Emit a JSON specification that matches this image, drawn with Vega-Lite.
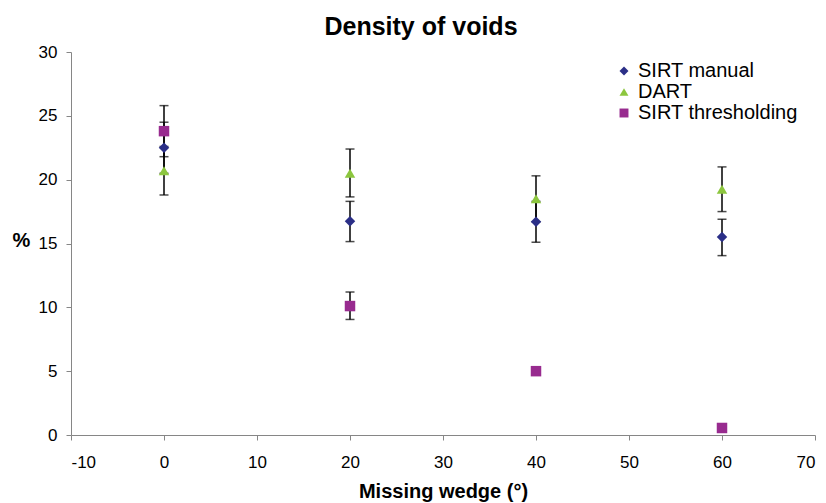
{
  "$schema": "https://vega.github.io/schema/vega-lite/v6.json",
  "width": 744,
  "height": 383,
  "autosize": "none",
  "padding": {"left": 71, "top": 52, "right": 11, "bottom": 68},
  "background": "white",
  "config": {
    "font": "Liberation Sans",
    "view": {"stroke": null},
    "axis": {"grid": false, "domainColor": "#868686", "tickColor": "#868686", "labelColor": "black", "labelFontSize": 17, "titleFontSize": 20, "titleFontWeight": "bold", "titleColor": "black", "tickSize": 5, "labelFont": "Liberation Sans", "titleFont": "Liberation Sans"}
  },
  "title": {"text": "Density of voids", "fontSize": 25, "fontWeight": "bold", "font": "Liberation Sans", "color": "black", "anchor": "middle", "dx": -22, "offset": 3},
  "data": {"values": [
    {"wedge": 0, "series": "SIRT manual", "value": 22.5, "lo": 20.5, "hi": 24.5},
    {"wedge": 20, "series": "SIRT manual", "value": 16.75, "lo": 15.15, "hi": 18.3},
    {"wedge": 40, "series": "SIRT manual", "value": 16.7, "lo": 15.1, "hi": 18.3},
    {"wedge": 60, "series": "SIRT manual", "value": 15.5, "lo": 14.05, "hi": 16.9},
    {"wedge": 0, "series": "DART", "value": 20.7, "lo": 18.8, "hi": 22.6},
    {"wedge": 20, "series": "DART", "value": 20.5, "lo": 18.65, "hi": 22.4},
    {"wedge": 40, "series": "DART", "value": 18.5, "lo": 16.7, "hi": 20.3},
    {"wedge": 60, "series": "DART", "value": 19.25, "lo": 17.5, "hi": 21.0},
    {"wedge": 0, "series": "SIRT thresholding", "value": 23.8, "lo": 21.8, "hi": 25.8},
    {"wedge": 20, "series": "SIRT thresholding", "value": 10.1, "lo": 9.05, "hi": 11.2},
    {"wedge": 40, "series": "SIRT thresholding", "value": 5.0, "lo": 4.75, "hi": 5.25},
    {"wedge": 60, "series": "SIRT thresholding", "value": 0.55, "lo": 0.55, "hi": 0.55}
  ]},
  "encoding": {
    "x": {"field": "wedge", "type": "quantitative", "scale": {"domain": [-10, 70], "nice": false, "zero": false}, "axis": {"values": [-10, 0, 10, 20, 30, 40, 50, 60, 70], "labelExpr": "'' + datum.value", "title": "Missing wedge (°)", "labelPadding": 14, "titlePadding": 11}}
  },
  "layer": [
    {
      "mark": {"type": "rule", "color": "black", "strokeWidth": 1.5},
      "encoding": {
        "y": {"field": "lo", "type": "quantitative", "scale": {"domain": [0, 30], "nice": false}, "axis": {"values": [0, 5, 10, 15, 20, 25, 30], "title": "%", "titleAngle": 0, "titleX": -50, "titleY": 198, "labelPadding": 9}},
        "y2": {"field": "hi"}
      }
    },
    {
      "mark": {"type": "tick", "color": "black", "size": 9, "thickness": 1.5, "orient": "horizontal"},
      "encoding": {"y": {"field": "lo", "type": "quantitative"}}
    },
    {
      "mark": {"type": "tick", "color": "black", "size": 9, "thickness": 1.5, "orient": "horizontal"},
      "encoding": {"y": {"field": "hi", "type": "quantitative"}}
    },
    {
      "mark": {"type": "point", "filled": true, "opacity": 1, "size": 110},
      "encoding": {
        "y": {"field": "value", "type": "quantitative"},
        "color": {"field": "series", "type": "nominal", "scale": {"domain": ["SIRT manual", "DART", "SIRT thresholding"], "range": ["#2B2F87", "#8CC63E", "#982B8F"]}, "legend": {"title": null, "orient": "none", "legendX": 543, "legendY": 9, "labelFontSize": 20, "labelFont": "Liberation Sans", "labelColor": "black", "symbolSize": 80, "rowPadding": 1, "symbolOpacity": 1}},
        "shape": {"field": "series", "type": "nominal", "scale": {"domain": ["SIRT manual", "DART", "SIRT thresholding"], "range": ["diamond", "triangle-up", "square"]}, "legend": null}
      }
    }
  ]
}
